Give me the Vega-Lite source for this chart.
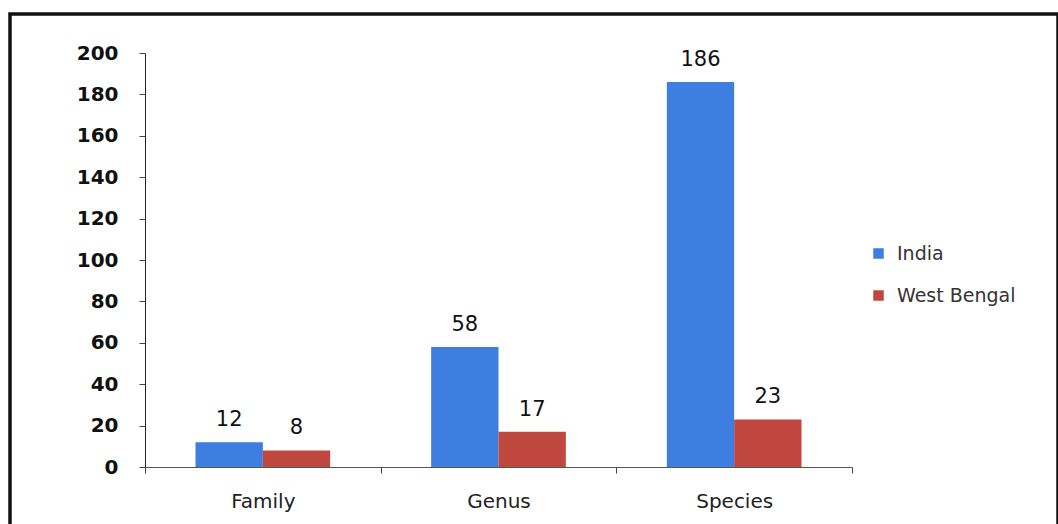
{
  "$schema": "https://vega.github.io/schema/vega-lite/v6.json",
  "autosize": "none",
  "padding": {"left": 10, "top": 14, "right": 0, "bottom": 0},
  "width": 1048,
  "height": 516,
  "background": "white",
  "config": {
    "view": {"stroke": "#111", "strokeWidth": 3.5},
    "font": "DejaVu Sans"
  },
  "data": {
    "values": [
      {"level": "Family", "region": "India", "count": 12},
      {"level": "Family", "region": "West Bengal", "count": 8},
      {"level": "Genus", "region": "India", "count": 58},
      {"level": "Genus", "region": "West Bengal", "count": 17},
      {"level": "Species", "region": "India", "count": 186},
      {"level": "Species", "region": "West Bengal", "count": 23}
    ]
  },
  "encoding": {
    "x": {
      "field": "level", "type": "nominal", "sort": ["Family", "Genus", "Species"],
      "scale": {"range": [135, 842], "paddingInner": 0, "paddingOuter": 0},
      "axis": {
        "title": null, "labelAngle": 0, "labelFontSize": 20, "labelColor": "#222",
        "labelPadding": 18, "tickBand": "extent", "tickSize": 6, "tickColor": "#444",
        "domainColor": "#555", "offset": -63, "grid": false
      }
    },
    "xOffset": {
      "field": "region", "type": "nominal",
      "scale": {"paddingInner": 0, "paddingOuter": 0.75}
    },
    "y": {
      "field": "count", "type": "quantitative",
      "scale": {"domain": [0, 200], "range": [453, 39], "nice": false},
      "axis": {
        "title": null, "values": [0, 20, 40, 60, 80, 100, 120, 140, 160, 180, 200],
        "labelFontSize": 20, "labelFontWeight": "bold", "labelColor": "#111", "labelPadding": 21,
        "tickSize": 6, "tickColor": "#444", "domainColor": "#222",
        "offset": -135, "grid": false
      }
    }
  },
  "layer": [
    {
      "mark": {"type": "bar"},
      "encoding": {
        "color": {
          "field": "region", "type": "nominal",
          "scale": {"domain": ["India", "West Bengal"], "range": ["#3d7ee0", "#c0473d"]},
          "legend": {
            "title": null, "orient": "none", "legendX": 859, "legendY": 230,
            "symbolType": "square", "symbolSize": 110, "labelFontSize": 19,
            "labelColor": "#333", "rowPadding": 22, "symbolStrokeWidth": 0, "labelOffset": 9
          }
        }
      }
    },
    {
      "mark": {"type": "text", "baseline": "alphabetic", "dy": -16, "fontSize": 21, "color": "#111"},
      "encoding": {"text": {"field": "count", "type": "quantitative"}}
    }
  ]
}
